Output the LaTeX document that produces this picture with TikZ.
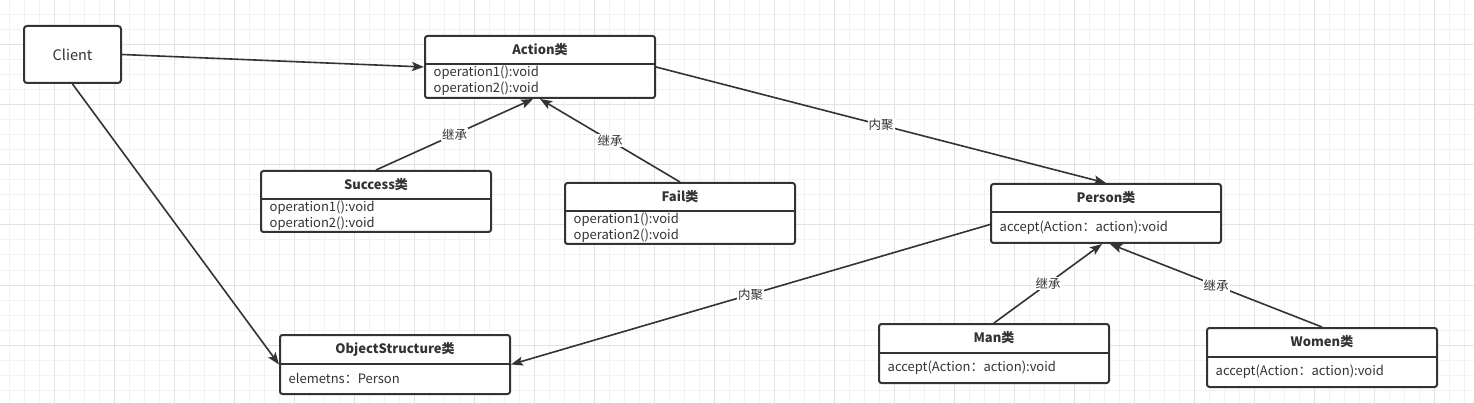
\documentclass[tikz,border=0pt]{standalone}
\usepackage{fontspec}
\setmainfont{Noto Sans CJK SC}
\usetikzlibrary{arrows.meta}
\definecolor{ink}{HTML}{333333}
\definecolor{gridminor}{HTML}{F2F2F2}
\definecolor{gridmajor}{HTML}{E2E2E2}
\tikzset{
  clsbox/.style={draw=ink, line width=2pt, rounded corners=2.5pt, fill=white, minimum width=230pt, inner sep=0pt, anchor=north west},
  clienbox/.style={draw=ink, line width=2pt, rounded corners=3pt, fill=white, minimum width=97pt, minimum height=57pt, anchor=north west, inner sep=0pt, font=\fontsize{14.5}{16}\selectfont, text=ink},
  divline/.style={draw=ink, line width=2pt},
  clstitle/.style={font=\bfseries\fontsize{13}{15}\selectfont, text=ink, inner sep=0pt},
  clsattr/.style={font=\fontsize{13}{16}\selectfont, text=ink, inner sep=0pt, align=left, anchor=west},
  arr/.style={draw=ink, line width=1.6pt, -{Stealth[length=12pt, width=9pt, inset=2.5pt]}},
  lbl/.style={fill=white, text=ink, inner sep=1pt, font=\fontsize{12.5}{14}\selectfont}
}
\newcommand\umlcls[6]{%
  \node[clsbox, minimum height={(#4-#3)*1pt}] (#1) at (#2,#3) {};
  \draw[divline] ([yshift=-29.5pt]#1.north west) -- ([yshift=-29.5pt]#1.north east);
  \node[clstitle] (#1t) at ([yshift=-15pt]#1.north) {#5};
  \node[clsattr] (#1a) at ({#2+9.5},{(#3+29.5+#4)/2}) {#6};
}
\begin{document}
\begin{tikzpicture}[x=1pt,y=-1pt]
\useasboundingbox (0,0) rectangle (1474,403);
\fill[white] (0,0) rectangle (1474,403);
% grid
\foreach \gx in {9,24,...,1474} \draw[gridminor, line width=1pt] (\gx,0) -- (\gx,403);
\foreach \gy in {15,30,...,403} \draw[gridminor, line width=1pt] (0,\gy) -- (1474,\gy);
\foreach \gx in {54,114,...,1474} \draw[gridmajor, line width=1pt] (\gx,0) -- (\gx,403);
\foreach \gy in {45,105,...,403} \draw[gridmajor, line width=1pt] (0,\gy) -- (1474,\gy);

\node[clienbox] (client) at (23,25) {Client};
\umlcls{action}{424}{35}{97}{Action类}{operation1():void\\operation2():void}
\umlcls{success}{260}{170}{231}{Success类}{operation1():void\\operation2():void}
\umlcls{fail}{564}{182}{243}{Fail类}{operation1():void\\operation2():void}
\umlcls{person}{990}{183}{242}{Person类}{accept(Action：action):void}
\umlcls{objs}{279}{334}{393}{ObjectStructure类}{elemetns：Person}
\umlcls{man}{878}{323}{382}{Man类}{accept(Action：action):void}
\umlcls{women}{1206}{327}{386}{Women类}{accept(Action：action):void}

\draw[arr] (client.east) -- (action.west);
\draw[arr] (client.south) -- (objs.west);
\draw[arr] (success.north) -- node[lbl]{继承} ([xshift=-7pt]action.south);
\draw[arr] (fail.north) -- node[lbl]{继承} (action.south);
\draw[arr] (action.east) -- node[lbl]{内聚} (person.north);
\draw[arr] ([yshift=-11pt]person.west) -- node[lbl]{内聚} (objs.east);
\draw[arr] (man.north) -- node[lbl]{继承} ([xshift=-4pt]person.south);
\draw[arr] (women.north) -- node[lbl]{继承} ([xshift=4pt]person.south);
\end{tikzpicture}
\end{document}
